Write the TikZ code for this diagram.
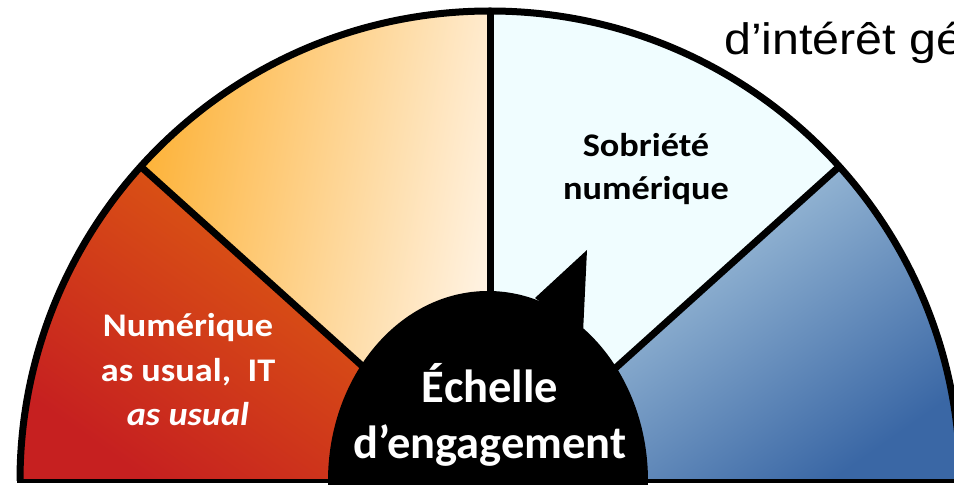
\documentclass[tikz,border=0pt]{standalone}
\usepackage{fontspec}
\usetikzlibrary{calc}
\setmainfont{Carlito}
\newfontfamily\arialfont{Liberation Sans}
\newcommand{\wideA}[1]{\scalebox{1.1}[1]{#1}}
\newcommand{\wideB}[1]{\scalebox{1.1}[1]{#1}}
\definecolor{redA}{HTML}{C62020}
\definecolor{redB}{HTML}{E2680F}
\definecolor{orA}{HTML}{FDB33A}
\definecolor{orB}{HTML}{FFF4E6}
\definecolor{cyA}{HTML}{F0FDFF}
\definecolor{blA}{HTML}{BCD8E8}
\definecolor{blB}{HTML}{3A67A5}
\tikzset{
  outline/.style={line width=7pt, black},
  divider/.style={line width=7pt, black},
  whitebold/.style={text=white, font=\bfseries\fontsize{33}{40}\selectfont, inner sep=0pt, anchor=base},
  blackbold/.style={text=black, font=\bfseries\fontsize{33}{40}\selectfont, inner sep=0pt, anchor=base},
  bigbold/.style={text=white, font=\bfseries\fontsize{46.5}{56}\selectfont, inner sep=0pt, anchor=base},
}
\begin{document}
\begin{tikzpicture}[x=1pt,y=1pt]
\useasboundingbox (0,0) rectangle (954,485);
\clip (0,0) rectangle (954,485);
\coordinate (C) at (490,4);
% sectors
\shade[top color=redB, bottom color=redA, shading angle=-35]
  (C) -- ++(180:470pt) arc[start angle=180, end angle=138, radius=470pt] -- cycle;
\shade[left color=orA, right color=orB, shading angle=80]
  (C) -- ++(138:470pt) arc[start angle=138, end angle=90, radius=470pt] -- cycle;
\fill[cyA] (C) -- ++(90:470pt) arc[start angle=90, end angle=42, radius=470pt] -- cycle;
\shade[top color=blA, bottom color=blB, shading angle=35]
  (C) -- ++(42:470pt) arc[start angle=42, end angle=0, radius=470pt] -- cycle;
% dividers
\coordinate (d1) at ($(C)+(138:470pt)$);
\coordinate (d2) at ($(C)+(90:470pt)$);
\coordinate (d3) at ($(C)+(42:470pt)$);
\draw[divider] (C) -- (d1);
\draw[divider] (C) -- (d2);
\draw[divider] (C) -- (d3);
% outer arc and base line
\coordinate (aL) at ($(C)+(180:470pt)$);
\draw[outline] (aL) arc[start angle=180, end angle=0, radius=470pt];
\coordinate (bL) at (17,4);
\coordinate (bR) at (954,4);
\draw[line width=4pt] (bL) -- (bR);
% dome with pointer
\coordinate (D) at (488,4);
\fill[black] (D) ellipse[x radius=160pt, y radius=190pt];
\coordinate (p1) at (535,187);
\coordinate (p2) at (587,235);
\coordinate (p3) at (583,152);
\fill[black] (p1) -- (p2) -- (p3) -- cycle;
% texts
\node[bigbold] (ech1) at (490,82) {Échelle};
\node[bigbold] (ech2) at (490,27) {d’engagement};
\node[whitebold] (num1) at (188,148) {\wideA{Numérique}};
\node[whitebold] (num2) at (188,103) {\wideA{as usual,\ \ IT}};
\node[whitebold] (num3) at (188,59) {\wideA{\itshape as usual}};
\node[blackbold] (sob1) at (646,328) {\wideA{Sobriété}};
\node[blackbold] (sob2) at (646,285) {\wideA{numérique}};
\node[inner sep=0pt, anchor=base west, font=\arialfont\fontsize{44}{50}\selectfont] (interet) at (724,430) {\wideB{d’intérêt gé}};
\end{tikzpicture}
\end{document}
